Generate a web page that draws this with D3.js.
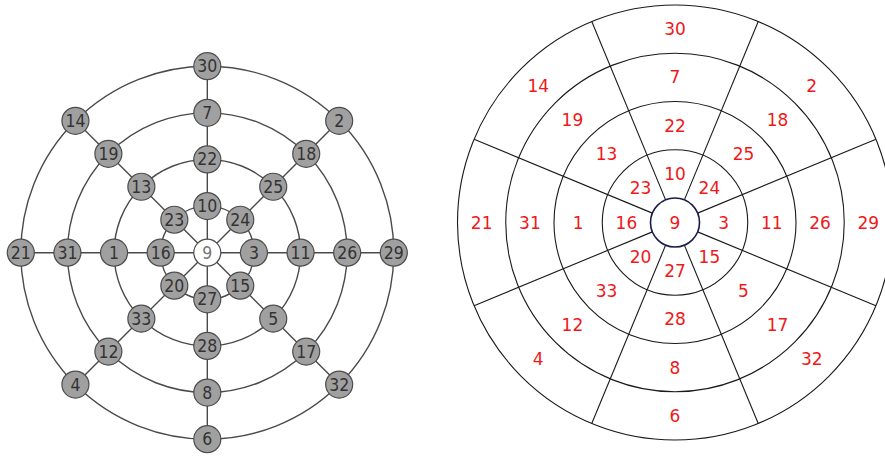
<!DOCTYPE html>
<html>
<head>
  <meta charset="UTF-8">
  <style>
body {
    margin: 0;
    background: white;
}
svg {
    display: block;
}
.node-label {
    font-family: 'DejaVu Sans Condensed', 'DejaVu Sans', sans-serif;
    font-size: 17.5px;
}
.cell-label {
    font-family: 'DejaVu Sans', sans-serif;
    font-size: 17px;
    fill: #f01818;
}
  </style>
</head>
<body>
<svg id="chart"></svg>

<script src="https://d3js.org/d3.v7.min.js"></script>
<script>

let width = 885, height = 456;

// labels, listed clockwise starting at the top (N, NE, E, SE, S, SW, W, NW)
const centerLabel = "9";
const ring1 = ["10", "24", "3", "15", "27", "20", "16", "23"];
const ring2 = ["22", "25", "11", "5", "28", "33", "1", "13"];
const ring3 = ["7", "18", "26", "17", "8", "12", "31", "19"];
const ring4 = ["30", "2", "29", "32", "6", "4", "21", "14"];
const rings = [ring1, ring2, ring3, ring4];

let svg = d3.select("#chart")
    .attr("width", width)
    .attr("height", height);

// angle of a direction index, 0 = up, clockwise
let angle = d3.scaleLinear().domain([0, 8]).range([0, 2 * Math.PI]);

// ---------- left: graph of nodes on rings ----------
let leftC = [207.3, 252.7];
let rLeft = d3.scaleLinear().domain([0, 4]).range([0, 186.5]);

let nodes = [{label: centerLabel, ring: 0, dir: 0}];
rings.forEach((ring, k) => {
    ring.forEach((lab, i) => nodes.push({label: lab, ring: k + 1, dir: i}));
});
nodes.forEach(d => {
    let r = rLeft(d.ring), a = angle(d.dir);
    d.x = leftC[0] + r * Math.sin(a);
    d.y = leftC[1] - r * Math.cos(a);
});

let left = svg.append("g").attr("id", "graph");

// ring edges
left.selectAll("circle.ring")
    .data(rings.map((r, k) => k + 1))
    .enter()
    .append("circle")
    .attr("class", "ring")
    .attr("cx", leftC[0])
    .attr("cy", leftC[1])
    .attr("r", d => rLeft(d))
    .attr("fill", "none")
    .attr("stroke", "#4a4a4a")
    .attr("stroke-width", 1.4);

// spoke edges
left.selectAll("line.spoke")
    .data(d3.range(8))
    .enter()
    .append("line")
    .attr("class", "spoke")
    .attr("x1", leftC[0])
    .attr("y1", leftC[1])
    .attr("x2", i => leftC[0] + rLeft(4) * Math.sin(angle(i)))
    .attr("y2", i => leftC[1] - rLeft(4) * Math.cos(angle(i)))
    .attr("stroke", "#4a4a4a")
    .attr("stroke-width", 1.4);

let nodeG = left.selectAll("g.node")
    .data(nodes)
    .enter()
    .append("g")
    .attr("class", "node")
    .attr("transform", d => "translate(" + d.x + "," + d.y + ")");

nodeG.append("circle")
    .attr("r", 13.5)
    .attr("fill", d => d.ring == 0 ? "white" : "#a0a0a0")
    .attr("stroke", "#4d4d4d")
    .attr("stroke-width", 1.2);

nodeG.append("text")
    .attr("class", "node-label")
    .attr("text-anchor", "middle")
    .attr("dominant-baseline", "central")
    .attr("fill", d => d.ring == 0 ? "#777" : "#333")
    .text(d => d.label);

// ---------- right: disc split into rings and sectors ----------
let rightC = [675, 222.5];
let rRight = d3.scaleLinear().domain([0, 4]).range([24.5, 217.5]);
let half = Math.PI / 8;

let cells = [];
rings.forEach((ring, k) => {
    ring.forEach((lab, i) => cells.push({label: lab, ring: k + 1, dir: i}));
});

let right = svg.append("g")
    .attr("id", "disc")
    .attr("transform", "translate(" + rightC[0] + "," + rightC[1] + ")");

// ring borders
right.selectAll("circle.ring")
    .data([1, 2, 3, 4])
    .enter()
    .append("circle")
    .attr("class", "ring")
    .attr("r", d => rRight(d))
    .attr("fill", "none")
    .attr("stroke", "#1a1a1a")
    .attr("stroke-width", 1.1);

// sector borders, halfway between two directions
right.selectAll("line.border")
    .data(d3.range(8))
    .enter()
    .append("line")
    .attr("class", "border")
    .attr("x1", i => rRight(0) * Math.sin(angle(i) + half))
    .attr("y1", i => -rRight(0) * Math.cos(angle(i) + half))
    .attr("x2", i => rRight(4) * Math.sin(angle(i) + half))
    .attr("y2", i => -rRight(4) * Math.cos(angle(i) + half))
    .attr("stroke", "#1a1a1a")
    .attr("stroke-width", 1.1);

right.append("circle")
    .attr("r", rRight(0))
    .attr("fill", "none")
    .attr("stroke", "#1b1b4d")
    .attr("stroke-width", 1.6);

let labelR = k => (rRight(k - 1) + rRight(k)) / 2;

right.selectAll("text.cell-label")
    .data(cells)
    .enter()
    .append("text")
    .attr("class", "cell-label")
    .attr("x", d => labelR(d.ring) * Math.sin(angle(d.dir)))
    .attr("y", d => -labelR(d.ring) * Math.cos(angle(d.dir)))
    .attr("text-anchor", "middle")
    .attr("dominant-baseline", "central")
    .text(d => d.label);

right.append("text")
    .attr("class", "cell-label")
    .attr("text-anchor", "middle")
    .attr("dominant-baseline", "central")
    .text(centerLabel);

</script>
</body>
</html>
